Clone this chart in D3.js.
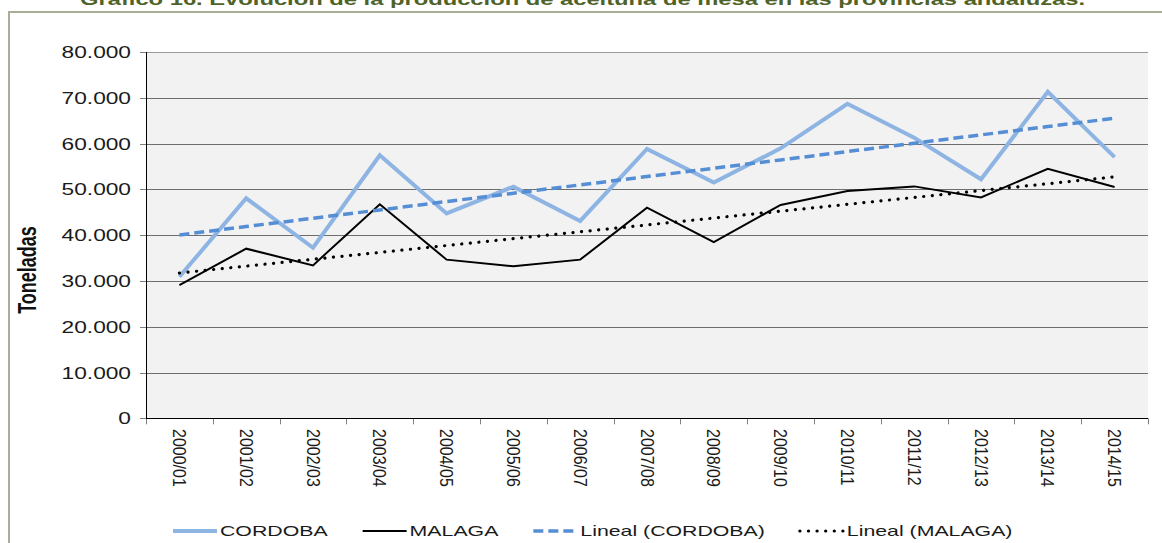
<!DOCTYPE html>
<html>
<head>
<meta charset="utf-8">
<script src="https://cdn.jsdelivr.net/npm/d3@7"></script>
<style>
  body { margin: 0; background: #fff; }
  text { font-family: "Liberation Sans", Arial, sans-serif; }
</style>
</head>
<body>
<div id="chart"></div>
<script>
// campañas
const campanas = ["2000/01", "2001/02", "2002/03", "2003/04", "2004/05", "2005/06", "2006/07", "2007/08",
  "2008/09", "2009/10", "2010/11", "2011/12", "2012/13", "2013/14", "2014/15"];
// toneladas por provincia
const cordoba = [30900, 48050, 37250, 57450, 44750, 50600, 43100, 58850, 51500, 58950, 68700, 61300, 52200, 71300, 57050];
const malaga = [29100, 37050, 33400, 46750, 34650, 33200, 34650, 46000, 38500, 46600, 49650, 50650, 48250, 54500, 50500];
// marcas del eje y
const yTicks = [0, 10000, 20000, 30000, 40000, 50000, 60000, 70000, 80000];
const legendLabels = ["CORDOBA", "MALAGA", "Lineal (CORDOBA)", "Lineal (MALAGA)"];

const width = 1162, height = 543;
const plot = {left: 146, right: 1148, top: 52, bottom: 418.3};
const sx = 1.42; // la imagen original esta estirada en horizontal

const fmt = d3.formatLocale({decimal: ",", thousands: ".", grouping: [3], currency: ["", ""]}).format(",.0f");

const svg = d3.select("#chart").append("svg")
  .attr("width", width).attr("height", height);

svg.append("rect").attr("width", width).attr("height", height).attr("fill", "#fff");

// marco del grafico
svg.append("rect")
  .attr("x", 9).attr("y", 12).attr("width", 1300).attr("height", 700)
  .attr("fill", "none").attr("stroke", "#a7b096").attr("stroke-width", 2);

// titulo (cortado arriba, igual que en el original)
svg.append("text")
  .attr("x", 80).attr("y", 5)
  .attr("textLength", 1005).attr("lengthAdjust", "spacingAndGlyphs")
  .attr("font-size", 17).attr("font-weight", "bold").attr("fill", "#4f6228")
  .text("Gráfico 16. Evolución de la producción de aceituna de mesa en las provincias andaluzas.");

const x = d3.scaleBand().domain(campanas).range([plot.left, plot.right]);
const y = d3.scaleLinear().domain([0, 80000]).range([plot.bottom, plot.top]);
const cx = d => x(d) + x.bandwidth() / 2;

svg.append("rect")
  .attr("x", plot.left).attr("y", plot.top)
  .attr("width", plot.right - plot.left).attr("height", plot.bottom - plot.top)
  .attr("fill", "#f2f2f2");

// rejilla
svg.append("g").selectAll("line").data(yTicks.filter(d => d > 0)).join("line")
  .attr("x1", plot.left).attr("x2", plot.right)
  .attr("y1", d => Math.round(y(d)) + 0.5).attr("y2", d => Math.round(y(d)) + 0.5)
  .attr("stroke", d => d === 80000 ? "#9a9a9a" : "#6e6e6e").attr("stroke-width", 1);

// eje y
const gy = svg.append("g");
gy.selectAll("line").data(yTicks).join("line")
  .attr("x1", plot.left - 6).attr("x2", plot.left)
  .attr("y1", d => Math.round(y(d)) + 0.5).attr("y2", d => Math.round(y(d)) + 0.5)
  .attr("stroke", "#808080");
gy.selectAll("text").data(yTicks).join("text")
  .attr("transform", d => `translate(131,${y(d) + 6}) scale(${sx},1)`)
  .attr("text-anchor", "end").attr("font-size", 16).attr("fill", "#1a1a1a")
  .text(d => fmt(d));
gy.append("line")
  .attr("x1", plot.left + 0.5).attr("x2", plot.left + 0.5)
  .attr("y1", plot.top).attr("y2", plot.bottom)
  .attr("stroke", "#000");

svg.append("text")
  .attr("transform", `translate(36,270) scale(${sx},1) rotate(-90)`)
  .attr("text-anchor", "middle").attr("font-size", 18).attr("font-weight", "bold").attr("fill", "#111")
  .text("Toneladas");

// eje x
const gx = svg.append("g");
const bounds = campanas.map(d => x(d)).concat([plot.right]);
gx.selectAll("line.tick").data(bounds).join("line").attr("class", "tick")
  .attr("x1", d => Math.round(d) + 0.5).attr("x2", d => Math.round(d) + 0.5)
  .attr("y1", plot.bottom).attr("y2", plot.bottom + 6)
  .attr("stroke", "#808080");
gx.append("line")
  .attr("x1", plot.left).attr("x2", plot.right)
  .attr("y1", Math.round(plot.bottom) + 0.5).attr("y2", Math.round(plot.bottom) + 0.5)
  .attr("stroke", "#000");
gx.selectAll("text").data(campanas).join("text")
  .attr("transform", d => `translate(${cx(d)},429) scale(1.15,1) rotate(90)`)
  .attr("dy", "0.35em").attr("font-size", 16).attr("fill", "#1a1a1a")
  .text(d => d);

// tendencia lineal (minimos cuadrados, como Excel)
function trend(vals) {
  const n = vals.length, xs = d3.range(1, n + 1);
  const mx = d3.mean(xs), my = d3.mean(vals);
  const b = d3.sum(xs, (xi, i) => (xi - mx) * (vals[i] - my)) / d3.sum(xs, xi => (xi - mx) ** 2);
  return xs.map(xi => my + b * (xi - mx));
}

const line = d3.line().x((d, i) => cx(campanas[i])).y(d => y(d));

svg.append("path").datum(cordoba).attr("d", line)
  .attr("fill", "none").attr("stroke", "#8db4e3").attr("stroke-width", 4);
svg.append("path").datum(malaga).attr("d", line)
  .attr("fill", "none").attr("stroke", "#000").attr("stroke-width", 2);
svg.append("path").datum(trend(cordoba)).attr("d", line)
  .attr("fill", "none").attr("stroke", "#558ed5").attr("stroke-width", 3.5)
  .attr("stroke-dasharray", "10,5");
svg.append("path").datum(trend(malaga)).attr("d", line)
  .attr("fill", "none").attr("stroke", "#000").attr("stroke-width", 3.2)
  .attr("stroke-linecap", "round").attr("stroke-dasharray", "0.1,8.5");

// leyenda
const styles = [
  {stroke: "#8db4e3", w: 4, dash: null, cap: "butt"},
  {stroke: "#000", w: 2, dash: null, cap: "butt"},
  {stroke: "#558ed5", w: 3.5, dash: "10,5", cap: "butt"},
  {stroke: "#000", w: 3.2, dash: "0.1,8.5", cap: "round"}
];
const leg = svg.append("g");
let lx = 173;
legendLabels.forEach((lab, i) => {
  const st = styles[i];
  leg.append("line")
    .attr("x1", lx).attr("x2", lx + 44).attr("y1", 531).attr("y2", 531)
    .attr("stroke", st.stroke).attr("stroke-width", st.w)
    .attr("stroke-dasharray", st.dash).attr("stroke-linecap", st.cap);
  const t = leg.append("text")
    .attr("transform", `translate(${lx + 47},536) scale(${sx},1)`)
    .attr("font-size", 15).attr("fill", "#1a1a1a")
    .text(lab);
  lx += 47 + t.node().getComputedTextLength() * sx + 35;
});
</script>
</body>
</html>
